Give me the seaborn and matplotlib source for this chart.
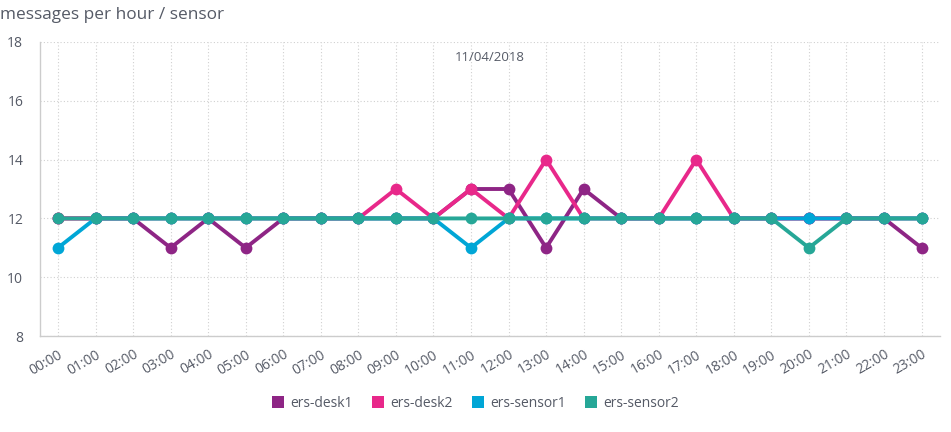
import pandas as pd
import matplotlib.pyplot as plt
import seaborn as sns
from matplotlib.lines import Line2D

hours = [f"{h:02d}:00" for h in range(24)]
desk1 = [12, 12, 12, 11, 12, 11, 12, 12, 12, 12, 12, 13, 13, 11, 13, 12, 12, 12, 12, 12, 12, 12, 12, 11]
desk2 = [12, 12, 12, 12, 12, 12, 12, 12, 12, 13, 12, 13, 12, 14, 12, 12, 12, 14, 12, 12, 12, 12, 12, 12]
sensor1 = [11, 12, 12, 12, 12, 12, 12, 12, 12, 12, 12, 11, 12, 12, 12, 12, 12, 12, 12, 12, 12, 12, 12, 12]
sensor2 = [12, 12, 12, 12, 12, 12, 12, 12, 12, 12, 12, 12, 12, 12, 12, 12, 12, 12, 12, 12, 11, 12, 12, 12]
names = ["ers-desk1", "ers-desk2", "ers-sensor1", "ers-sensor2"]
colors = ["#8E2585", "#E8288A", "#00A6D6", "#26A797"]

# long format for seaborn
rows = []
for name, vals in zip(names, [desk1, desk2, sensor1, sensor2]):
    for i, v in enumerate(vals):
        rows.append({"pos": i, "hour": hours[i], "value": v, "sensor": name})
df = pd.DataFrame(rows)

sns.set_style("white")
plt.rcParams["font.family"] = ["Open Sans", "DejaVu Sans"]

fig = plt.figure(figsize=(9.51, 4.32), dpi=100)
ax = fig.add_axes([0.042, 0.222, 0.946, 0.681])

sns.lineplot(data=df, x="pos", y="value", hue="sensor", hue_order=names,
             palette=colors, marker="o", markersize=8.5, markeredgewidth=0,
             linewidth=2.8, legend=False, ax=ax)

ax.set_xlim(-0.48, 23.48)
ax.set_ylim(8, 18)
ax.set_yticks(range(8, 19, 2))
ax.set_xticks(range(24))
ax.set_xticklabels(hours, rotation=30, ha="right", rotation_mode="anchor")
ax.tick_params(axis="both", length=0, labelsize=10, colors="#555a66", pad=8)
ax.tick_params(axis="y", pad=12)
ax.set_xlabel("")
ax.set_ylabel("")

ax.grid(True, color="#d0d0d0", linestyle=(0, (1, 2)), linewidth=0.8)
ax.set_axisbelow(True)
for s in ["top", "right"]:
    ax.spines[s].set_visible(False)
for s in ["left", "bottom"]:
    ax.spines[s].set_color("#cccccc")
    ax.spines[s].set_linewidth(1)

ax.text(0.5, 0.97, "11/04/2018", transform=ax.transAxes, ha="center", va="top",
        fontsize=9.5, color="#555a66")
fig.text(0.0, 0.965, "messages per hour / sensor", ha="left", va="center",
         fontsize=12.4, color="#555a66")

handles = [Line2D([], [], marker="s", linestyle="", markersize=9,
                  markerfacecolor=c, markeredgewidth=0) for c in colors]
fig.legend(handles, names, loc="center", bbox_to_anchor=(0.5, 0.067), ncol=4,
           frameon=False, fontsize=10, labelcolor="#555a66", handletextpad=0.5,
           handlelength=0.8, columnspacing=1.4)

fig.savefig("out.png", dpi=100)
